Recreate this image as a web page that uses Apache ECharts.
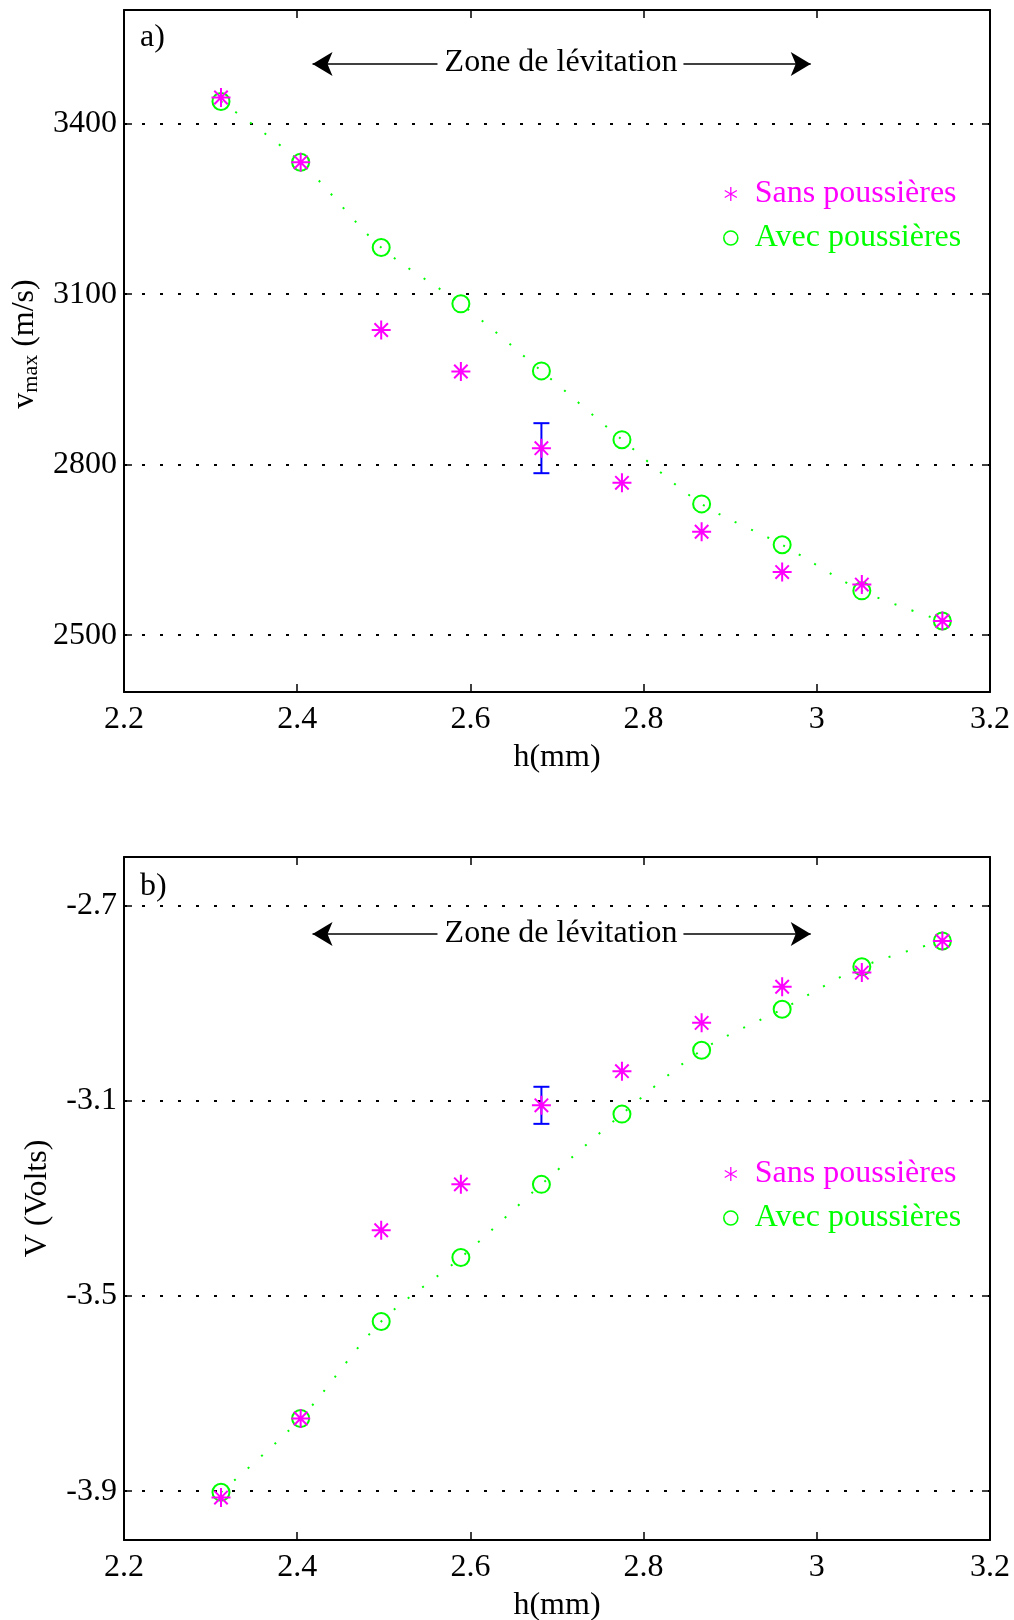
<!DOCTYPE html>
<html>
<head>
<meta charset="utf-8">
<script src="https://cdn.jsdelivr.net/npm/echarts@6/dist/echarts.min.js"></script>
<style>
  html, body { margin: 0; padding: 0; background: #fff; }
  #chart { width: 1014px; height: 1620px; }
</style>
</head>
<body>
<div id="chart"></div>
<script>
// ---------- data ----------
const hVals = [2.312, 2.404, 2.497, 2.589, 2.682, 2.775, 2.867, 2.960, 3.052, 3.145];
const vmaxSans = [3446, 3332, 3037, 2964, 2829, 2768, 2682, 2611, 2589, 2525];
const vmaxAvec = [3439, 3332, 3182, 3083, 2965, 2844, 2731, 2659, 2578, 2525];
const voltSans = [-3.913, -3.751, -3.365, -3.271, -3.109, -3.039, -2.940, -2.866, -2.837, -2.772];
const voltAvec = [-3.902, -3.751, -3.552, -3.421, -3.271, -3.127, -2.996, -2.912, -2.825, -2.772];
const vmaxErr = [[2.682, 2785, 2873]];
const voltErr = [[2.682, -3.147, -3.071]];
const xTicks = [2.2, 2.4, 2.6, 2.8, 3.0, 3.2];
const vmaxTicks = [2500, 2800, 3100, 3400];
const voltTicks = [-3.9, -3.5, -3.1, -2.7];
const zoneArrowLeft = [2.4177, 2.562];
const zoneArrowRight = [2.846, 2.993];
const zoneArrowY = [3505, -2.758];

const FONT = "'Liberation Serif', 'Times New Roman', serif";
const MAG = '#ff00ff', GRN = '#00ff00', BLU = '#0000ff';
const starPath = 'path://M0,-10L0,10M-10,0L10,0M-7.07,-7.07L7.07,7.07M-7.07,7.07L7.07,-7.07';
const starLegend = 'path://M0,-10L0,10M-8.66,-5L8.66,5M-8.66,5L8.66,-5';

const chart = echarts.init(document.getElementById('chart'), null, { renderer: 'canvas' });

function xAxisPair(gi) {
  return [
    {
      type: 'value', gridIndex: gi, position: 'bottom', min: 2.2, max: 3.2, interval: 0.2,
      axisLine: { onZero: false, lineStyle: { color: '#000', width: 2 } },
      axisTick: { inside: true, length: 8, lineStyle: { color: '#000', width: 1.5 } },
      axisLabel: { color: '#000', fontFamily: FONT, fontSize: 32, margin: 12,
                   formatter: v => String(+v.toFixed(1)) },
      splitLine: { show: false },
      name: 'h(mm)', nameLocation: 'middle', nameGap: 50,
      nameTextStyle: { color: '#000', fontFamily: FONT, fontSize: 32 }
    },
    {
      type: 'value', gridIndex: gi, position: 'top', min: 2.2, max: 3.2, interval: 0.2,
      axisLine: { onZero: false, lineStyle: { color: '#000', width: 2 } },
      axisTick: { inside: true, length: 8, lineStyle: { color: '#000', width: 1.5 } },
      axisLabel: { show: false },
      splitLine: { show: false }
    }
  ];
}

function yAxisPair(gi, min, max, ticks, name, nameGap, namePad) {
  return [
    {
      type: 'value', gridIndex: gi, position: 'left', min: min, max: max,
      axisLine: { onZero: false, lineStyle: { color: '#000', width: 2 } },
      axisTick: { inside: true, length: 8, customValues: ticks, lineStyle: { color: '#000', width: 1.5 } },
      axisLabel: { customValues: ticks, color: '#000', fontFamily: FONT, fontSize: 32, margin: 7,
                   formatter: v => String(+v.toFixed(2)) },
      splitLine: { show: true, lineStyle: { color: '#000', width: 2, type: [3, 15] } },
      name: name, nameLocation: 'middle', nameGap: nameGap, nameRotate: 90,
      nameTextStyle: {
        color: '#000', fontFamily: FONT, fontSize: 32, padding: namePad,
        rich: {
          v: { fontFamily: FONT, fontSize: 32, color: '#000' },
          s: { fontFamily: FONT, fontSize: 22, color: '#000', padding: [14, 0, 0, 0] }
        }
      }
    },
    {
      type: 'value', gridIndex: gi, position: 'right', min: min, max: max,
      axisLine: { onZero: false, lineStyle: { color: '#000', width: 2 } },
      axisTick: { inside: true, length: 8, customValues: ticks, lineStyle: { color: '#000', width: 1.5 } },
      axisLabel: { show: false, customValues: ticks },
      splitLine: { show: false }
    }
  ];
}

function errRender(params, api) {
  const x = api.value(0), lo = api.value(1), hi = api.value(2);
  const p1 = api.coord([x, lo]), p2 = api.coord([x, hi]);
  const w = 8;
  const st = { stroke: BLU, lineWidth: 2 };
  return {
    type: 'group',
    children: [
      { type: 'line', shape: { x1: p1[0], y1: p1[1], x2: p2[0], y2: p2[1] }, style: st },
      { type: 'line', shape: { x1: p1[0] - w, y1: p1[1], x2: p1[0] + w, y2: p1[1] }, style: st },
      { type: 'line', shape: { x1: p2[0] - w, y1: p2[1], x2: p2[0] + w, y2: p2[1] }, style: st }
    ]
  };
}

function zoneMarkLine(y) {
  return {
    silent: true,
    symbol: ['arrow', 'none'],
    symbolSize: [18, 20],
    label: { show: false },
    lineStyle: { color: '#000', width: 1.5, type: 'solid' },
    emphasis: { disabled: true },
    data: [
      [{ coord: [zoneArrowLeft[1], y], symbol: 'none' }, { coord: [zoneArrowLeft[0], y], symbol: 'arrow' }],
      [{ coord: [zoneArrowRight[0], y], symbol: 'none' }, { coord: [zoneArrowRight[1], y], symbol: 'arrow' }]
    ]
  };
}

function seriesFor(gi, sans, avec, err, arrowY) {
  const xi = gi * 2, yi = gi * 2;
  return [
    {
      type: 'custom', name: 'err' + gi, xAxisIndex: xi, yAxisIndex: yi, z: 1,
      renderItem: errRender, data: err, silent: true
    },
    {
      type: 'line', name: 'Avec poussières', xAxisIndex: xi, yAxisIndex: yi, z: 2,
      data: hVals.map((h, i) => [h, avec[i]]),
      smooth: 0.3,
      symbol: 'circle', symbolSize: 17, showSymbol: true,
      itemStyle: { color: 'rgba(0,0,0,0)', borderColor: GRN, borderWidth: 2 },
      lineStyle: { color: GRN, width: 2, type: [2, 16] },
      emphasis: { disabled: true }, silent: true,
      markLine: zoneMarkLine(arrowY)
    },
    {
      type: 'scatter', name: 'Sans poussières', xAxisIndex: xi, yAxisIndex: yi, z: 3,
      data: hVals.map((h, i) => [h, sans[i]]),
      symbol: starPath, symbolSize: 19,
      itemStyle: { color: MAG, borderColor: MAG, borderWidth: 2, opacity: 1 },
      emphasis: { disabled: true }, silent: true
    }
  ];
}

function legendAt(top) {
  return {
    orient: 'vertical', left: 718, top: top,
    itemWidth: 14, itemHeight: 14, itemGap: 12,
    selectedMode: false,
    textStyle: { fontFamily: FONT, fontSize: 32, padding: [0, 0, 0, 12] },
    data: [
      { name: 'Sans poussières', icon: starLegend, textStyle: { color: MAG },
        itemStyle: { color: MAG, borderColor: MAG, borderWidth: 1.3 } },
      { name: 'Avec poussières', icon: 'circle', textStyle: { color: GRN },
        itemStyle: { color: 'rgba(0,0,0,0)', borderColor: GRN, borderWidth: 1.6 } }
    ]
  };
}

const option = {
  animation: false,
  backgroundColor: '#fff',
  grid: [
    { left: 124, right: 24, top: 10, height: 682, outerBoundsMode: 'none', containLabel: false },
    { left: 124, right: 24, top: 857, height: 683, outerBoundsMode: 'none', containLabel: false }
  ],
  xAxis: [...xAxisPair(0), ...xAxisPair(1)],
  yAxis: [
    ...yAxisPair(0, 2400, 3600, vmaxTicks, '{v|v}{s|max}{v| (m/s)}', 79, [0, 0, 0, 14]),
    ...yAxisPair(1, -4.0, -2.6, voltTicks, 'V (Volts)', 70, 0)
  ],
  legend: [legendAt(173), legendAt(1153)],
  series: [
    ...seriesFor(0, vmaxSans, vmaxAvec, vmaxErr, zoneArrowY[0]),
    ...seriesFor(1, voltSans, voltAvec, voltErr, zoneArrowY[1])
  ],
  graphic: [
    { type: 'text', x: 140, y: 38, style: { text: 'a)', fontFamily: FONT, fontSize: 32, fill: '#000', verticalAlign: 'middle' } },
    { type: 'text', x: 140, y: 887, style: { text: 'b)', fontFamily: FONT, fontSize: 32, fill: '#000', verticalAlign: 'middle' } },
    { type: 'text', x: 561, y: 63, style: { text: 'Zone de lévitation', fontFamily: FONT, fontSize: 32, fill: '#000', align: 'center', verticalAlign: 'middle' } },
    { type: 'text', x: 561, y: 934, style: { text: 'Zone de lévitation', fontFamily: FONT, fontSize: 32, fill: '#000', align: 'center', verticalAlign: 'middle' } }
  ]
};
chart.setOption(option);
</script>
</body>
</html>
